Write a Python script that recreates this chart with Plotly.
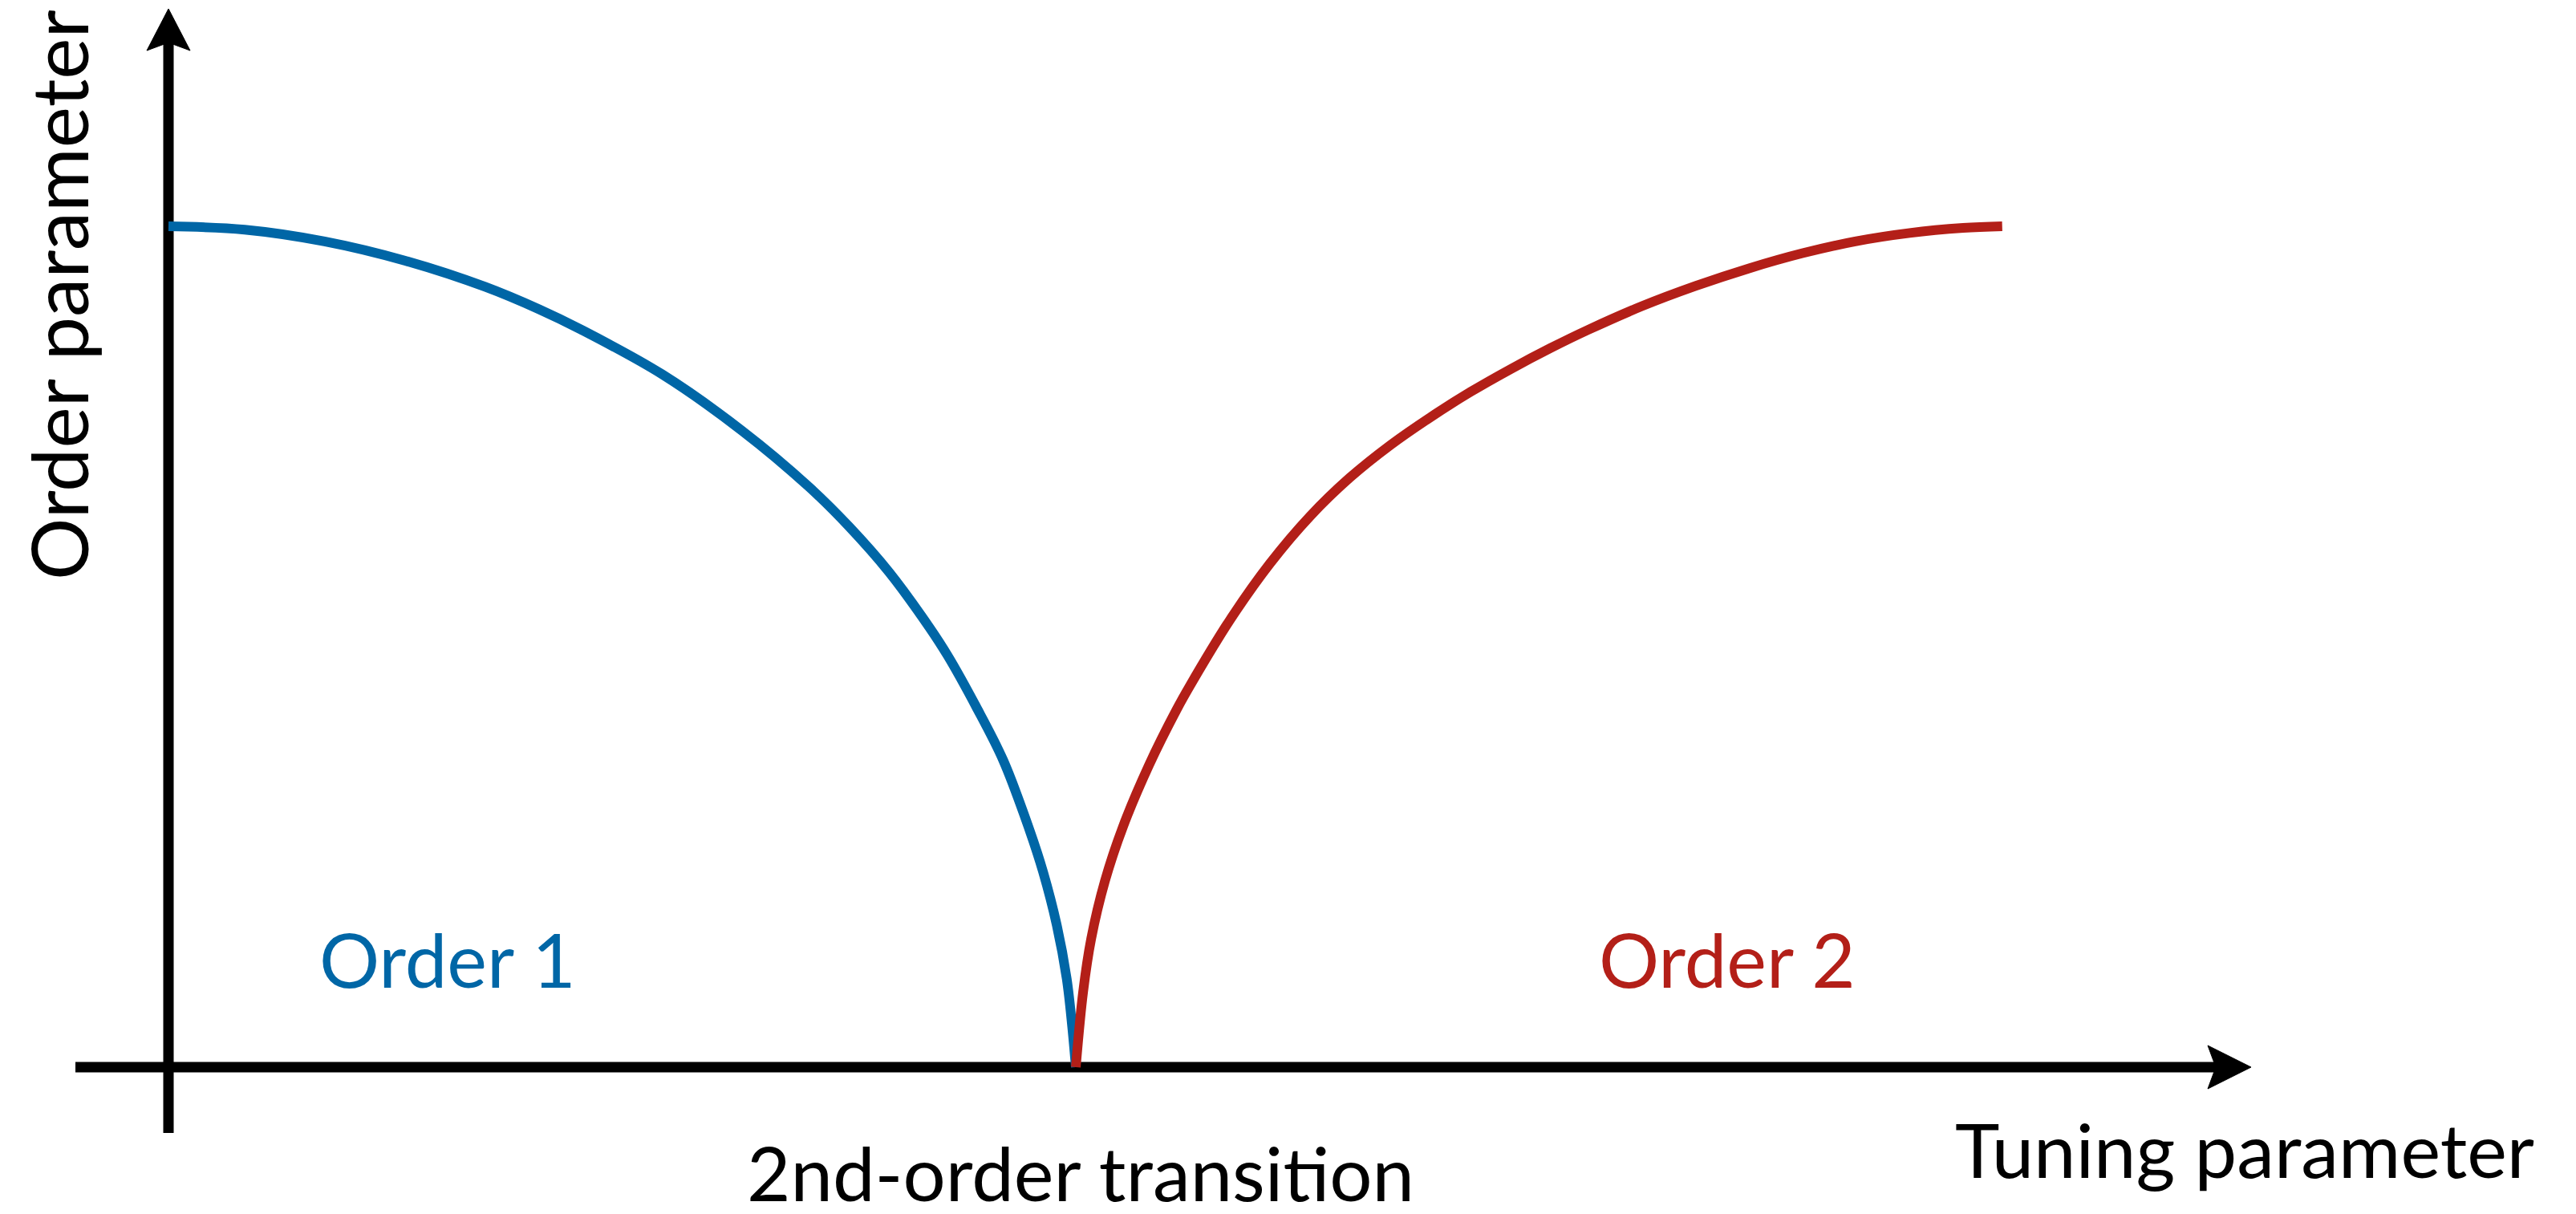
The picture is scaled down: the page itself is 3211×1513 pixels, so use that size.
import plotly.graph_objects as go

# ---- data (tuning parameter t, order parameter v); transition at t = 1 ----
blue_t = [0.0, 0.084, 0.172, 0.261, 0.349, 0.409, 0.455, 0.544, 0.632, 0.706, 0.750,
          0.794, 0.838, 0.859, 0.890, 0.920, 0.949, 0.964, 0.979, 0.990, 0.996, 1.0]
blue_v = [1.0, 0.996, 0.982, 0.959, 0.928, 0.901, 0.877, 0.824, 0.757, 0.690, 0.643,
          0.589, 0.524, 0.489, 0.429, 0.365, 0.282, 0.232, 0.169, 0.105, 0.048, 0.0]

red_t = [1.0, 1.008, 1.017, 1.032, 1.052, 1.081, 1.111, 1.126, 1.170, 1.214, 1.258, 1.302, 1.347,
         1.391, 1.435, 1.479, 1.523, 1.565, 1.624, 1.683, 1.742, 1.801, 1.859, 1.919, 1.978, 2.021]
red_v = [0.0, 0.089, 0.153, 0.221, 0.286, 0.360, 0.425, 0.454, 0.532, 0.599, 0.655, 0.701, 0.740,
         0.773, 0.803, 0.830, 0.855, 0.877, 0.905, 0.929, 0.950, 0.968, 0.982, 0.992, 0.998, 1.0]

labels = {"x": "Tuning parameter", "y": "Order parameter", "t": "2nd-order transition",
          "o1": "Order 1", "o2": "Order 2"}

BLUE = "#0066A6"
RED = "#B31F18"
OFF = 8                 # default page body margin of the html page
W, H = 3211 - 2 * OFF, 1513 - 2 * OFF
X0, XS = 210 - OFF, 1131   # figure pixel of t=0, pixels per unit t
Y0, YS = 1330 - OFF, 1048  # figure pixel of v=0, pixels per unit v


def tx(px):            # page pixel -> data x
    return (px - OFF - X0) / XS


def vy(py):            # page pixel -> data y
    return (Y0 - (py - OFF)) / YS


FONT = "Lato"
FS = 94

fig = go.Figure()
fig.add_trace(go.Scatter(x=blue_t, y=blue_v, mode="lines",
                         line=dict(color=BLUE, width=12, shape="spline", smoothing=1.0, simplify=False),
                         showlegend=False, hoverinfo="skip"))
fig.add_trace(go.Scatter(x=red_t, y=red_v, mode="lines",
                         line=dict(color=RED, width=12, shape="spline", smoothing=1.0, simplify=False),
                         showlegend=False, hoverinfo="skip"))

shapes = []
# x axis line + arrow head
shapes.append(dict(type="line", xref="x", yref="y", x0=tx(94), x1=tx(2764), y0=vy(1330), y1=vy(1330),
                   line=dict(color="black", width=13), layer="below"))
shapes.append(dict(type="path", xref="x", yref="y", layer="below",
                   path=f"M {tx(2806)},{vy(1330)} L {tx(2752)},{vy(1303)} L {tx(2762)},{vy(1330)} L {tx(2752)},{vy(1357)} Z",
                   fillcolor="black", line=dict(color="black", width=1)))
# y axis line + arrow head
shapes.append(dict(type="line", xref="x", yref="y", x0=tx(210), x1=tx(210), y0=vy(1412), y1=vy(51),
                   line=dict(color="black", width=13), layer="below"))
shapes.append(dict(type="path", xref="x", yref="y", layer="below",
                   path=f"M {tx(210)},{vy(11)} L {tx(183)},{vy(63)} L {tx(210)},{vy(53)} L {tx(237)},{vy(63)} Z",
                   fillcolor="black", line=dict(color="black", width=1)))

ann = []


def add_text(text, cx, cy, color="black", size=FS, angle=0):
    ann.append(dict(x=tx(cx), y=vy(cy), xref="x", yref="y", text=text, showarrow=False,
                    xanchor="center", yanchor="middle", textangle=angle, borderpad=0,
                    font=dict(family=FONT, size=size, color=color)))


add_text(labels["o1"], 558, 1194, BLUE)
add_text(labels["o2"], 2153, 1194, RED)
add_text(labels["t"], 1347, 1460)
add_text(labels["x"], 2798, 1431)
add_text(labels["y"], 72, 368, size=97, angle=-90)

fig.update_layout(
    width=W, height=H, margin=dict(l=0, r=0, t=0, b=0),
    paper_bgcolor="white", plot_bgcolor="rgba(0,0,0,0)",
    xaxis=dict(range=[tx(OFF), tx(OFF + W)], visible=False, fixedrange=True),
    yaxis=dict(range=[vy(OFF + H), vy(OFF)], visible=False, fixedrange=True),
    shapes=shapes, annotations=ann,
)

fig.write_html("out.html")
